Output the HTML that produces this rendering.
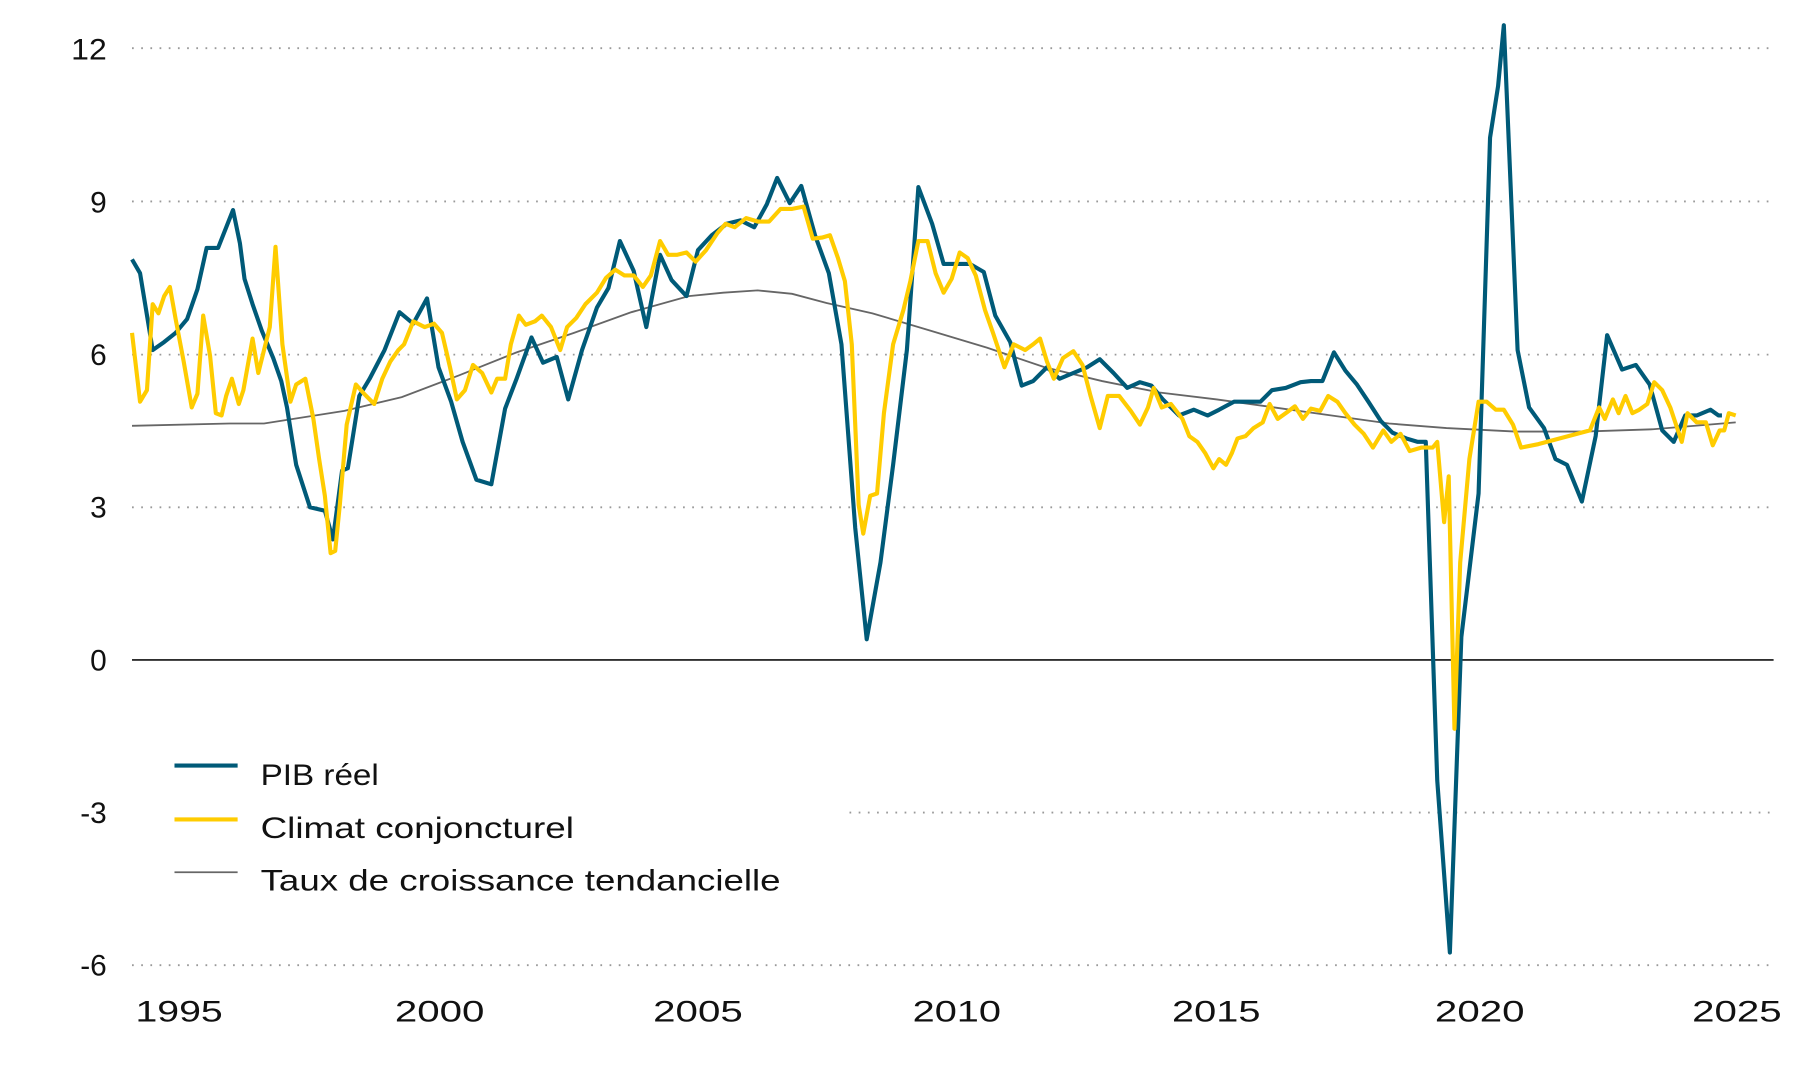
<!DOCTYPE html>
<html><head><meta charset="utf-8"><style>
html,body{margin:0;padding:0;background:#fff;}
svg{display:block;font-family:"Liberation Sans",sans-serif;}
</style></head><body>
<svg width="1800" height="1080" viewBox="0 0 1568 941" preserveAspectRatio="none">
<g stroke="#999" stroke-width="1.6" stroke-dasharray="1.5 6.5">
<line x1="115" x2="1545" y1="42" y2="42"/>
<line x1="115" x2="1545" y1="175.5" y2="175.5"/>
<line x1="115" x2="1545" y1="309" y2="309"/>
<line x1="115" x2="1545" y1="442" y2="442"/>
<line x1="740" x2="1545" y1="708" y2="708"/>
<line x1="115" x2="1545" y1="841" y2="841"/>
</g>
<line x1="115" x2="1545" y1="575" y2="575" stroke="#111" stroke-width="1.5"/>
<g font-size="26" fill="#111" text-anchor="end">
<text x="93" y="52" textLength="31" lengthAdjust="spacingAndGlyphs">12</text><text x="93" y="185">9</text><text x="93" y="318">6</text>
<text x="93" y="451">3</text><text x="93" y="584">0</text><text x="93" y="717">-3</text><text x="93" y="850">-6</text>
</g>
<g font-size="26" fill="#111">
<text x="118" y="890" textLength="76" lengthAdjust="spacingAndGlyphs">1995</text>
<text x="344" y="890" textLength="78" lengthAdjust="spacingAndGlyphs">2000</text>
<text x="569" y="890" textLength="78" lengthAdjust="spacingAndGlyphs">2005</text>
<text x="795" y="890" textLength="77" lengthAdjust="spacingAndGlyphs">2010</text>
<text x="1021" y="890" textLength="77" lengthAdjust="spacingAndGlyphs">2015</text>
<text x="1250" y="890" textLength="78" lengthAdjust="spacingAndGlyphs">2020</text>
<text x="1474" y="890" textLength="78" lengthAdjust="spacingAndGlyphs">2025</text>
</g>
<polyline fill="none" stroke="#666" stroke-width="1.6" points="115,371 200,369 230,369 300,358 350,346 400,327 450,307 500,290 550,272 600,258 630,255 660,253 690,256 720,264 760,273 810,288 860,303 910,320 960,332 1010,342 1060,348 1110,355 1160,362 1210,369 1260,373 1320,376 1380,376 1440,374 1512,368"/>
<polyline fill="none" stroke="#005a78" stroke-width="3.6" stroke-linejoin="round" points="115,226 122,238 133,305 143,298 153,290 163,278 172,252 180,216 190,216 203,183 209,212 213,243 220,265 228,288 238,312 245,332 250,355 258,405 270,442 283,445 290,470 298,410 303,408 313,345 322,330 335,305 348,272 360,282 372,260 382,320 393,350 403,385 415,418 428,422 440,356 450,330 463,294 473,316 485,311 495,348 507,305 520,268 530,251 540,210 552,236 563,285 575,222 585,244 598,258 608,218 620,205 633,195 645,192 657,198 668,178 677,155 688,177 698,162 710,205 722,238 733,300 745,460 755,557 767,490 778,405 790,305 800,163 812,195 822,230 833,230 845,230 857,237 867,275 880,298 890,336 900,332 912,320 923,330 935,325 947,320 958,313 970,325 982,338 993,333 1003,336 1013,348 1027,362 1040,357 1052,362 1062,357 1075,350 1085,350 1098,350 1108,340 1120,338 1133,333 1142,332 1152,332 1162,307 1172,323 1182,335 1192,350 1203,367 1213,377 1225,382 1235,385 1242,385 1252,680 1263,830 1273,555 1288,430 1298,120 1305,75 1310,22 1322,305 1332,355 1345,373 1355,400 1365,405 1378,437 1390,380 1400,292 1413,322 1425,318 1437,335 1448,375 1458,385 1468,362 1478,362 1490,357 1497,362 1500,362"/>
<polyline fill="none" stroke="#ffcc00" stroke-width="3.6" stroke-linejoin="round" points="115,290 122,350 128,340 133,265 138,273 143,258 148,250 153,278 160,315 167,355 172,343 177,275 183,310 188,360 193,362 197,345 202,330 208,352 212,340 220,295 225,325 230,305 235,285 240,215 246,300 253,350 258,335 266,330 273,365 278,400 283,432 288,482 292,480 296,440 302,370 310,335 318,344 326,352 333,330 340,315 347,305 352,300 360,280 370,285 378,282 385,290 392,320 398,348 405,340 412,318 420,325 428,342 433,330 440,330 445,300 452,275 458,283 466,280 472,275 480,285 488,305 494,285 502,277 510,265 520,255 528,242 536,235 544,240 552,240 560,250 567,240 575,210 582,222 590,222 598,220 606,228 615,218 625,203 632,195 640,198 650,190 660,193 670,193 680,182 690,182 700,180 708,208 716,207 723,205 730,225 736,245 742,300 748,440 752,465 758,432 764,430 770,360 778,300 787,270 793,245 800,210 808,210 815,238 822,255 829,243 836,220 843,225 850,240 858,270 865,290 875,320 883,300 893,305 900,300 906,295 912,315 918,330 926,312 935,306 943,318 950,345 958,373 965,345 975,345 985,358 993,370 1000,355 1005,338 1012,355 1020,352 1030,365 1036,380 1043,385 1050,395 1057,408 1062,400 1068,405 1073,395 1078,382 1085,380 1092,373 1100,368 1106,352 1113,365 1120,360 1128,354 1135,365 1142,356 1150,358 1157,345 1165,350 1172,360 1180,370 1188,378 1196,390 1205,375 1212,385 1220,378 1228,393 1238,390 1248,390 1252,385 1258,455 1262,415 1267,635 1272,490 1280,400 1288,350 1295,350 1303,357 1310,357 1318,370 1325,390 1340,387 1385,375 1393,355 1398,365 1405,348 1410,360 1416,345 1422,360 1428,357 1435,352 1441,333 1448,340 1455,355 1460,370 1465,385 1470,360 1478,368 1486,368 1492,388 1498,375 1502,375 1506,360 1512,362"/>
<line x1="152" x2="207" y1="667" y2="667" stroke="#005a78" stroke-width="3.6"/>
<line x1="152" x2="207" y1="714" y2="714" stroke="#ffcc00" stroke-width="3.6"/>
<line x1="152" x2="207" y1="760" y2="760" stroke="#666" stroke-width="1.6"/>
<g font-size="26" fill="#111">
<text x="227" y="684" textLength="103" lengthAdjust="spacingAndGlyphs">PIB réel</text>
<text x="227" y="730" textLength="273" lengthAdjust="spacingAndGlyphs">Climat conjoncturel</text>
<text x="227" y="776" textLength="453" lengthAdjust="spacingAndGlyphs">Taux de croissance tendancielle</text>
</g>
</svg>
</body></html>
